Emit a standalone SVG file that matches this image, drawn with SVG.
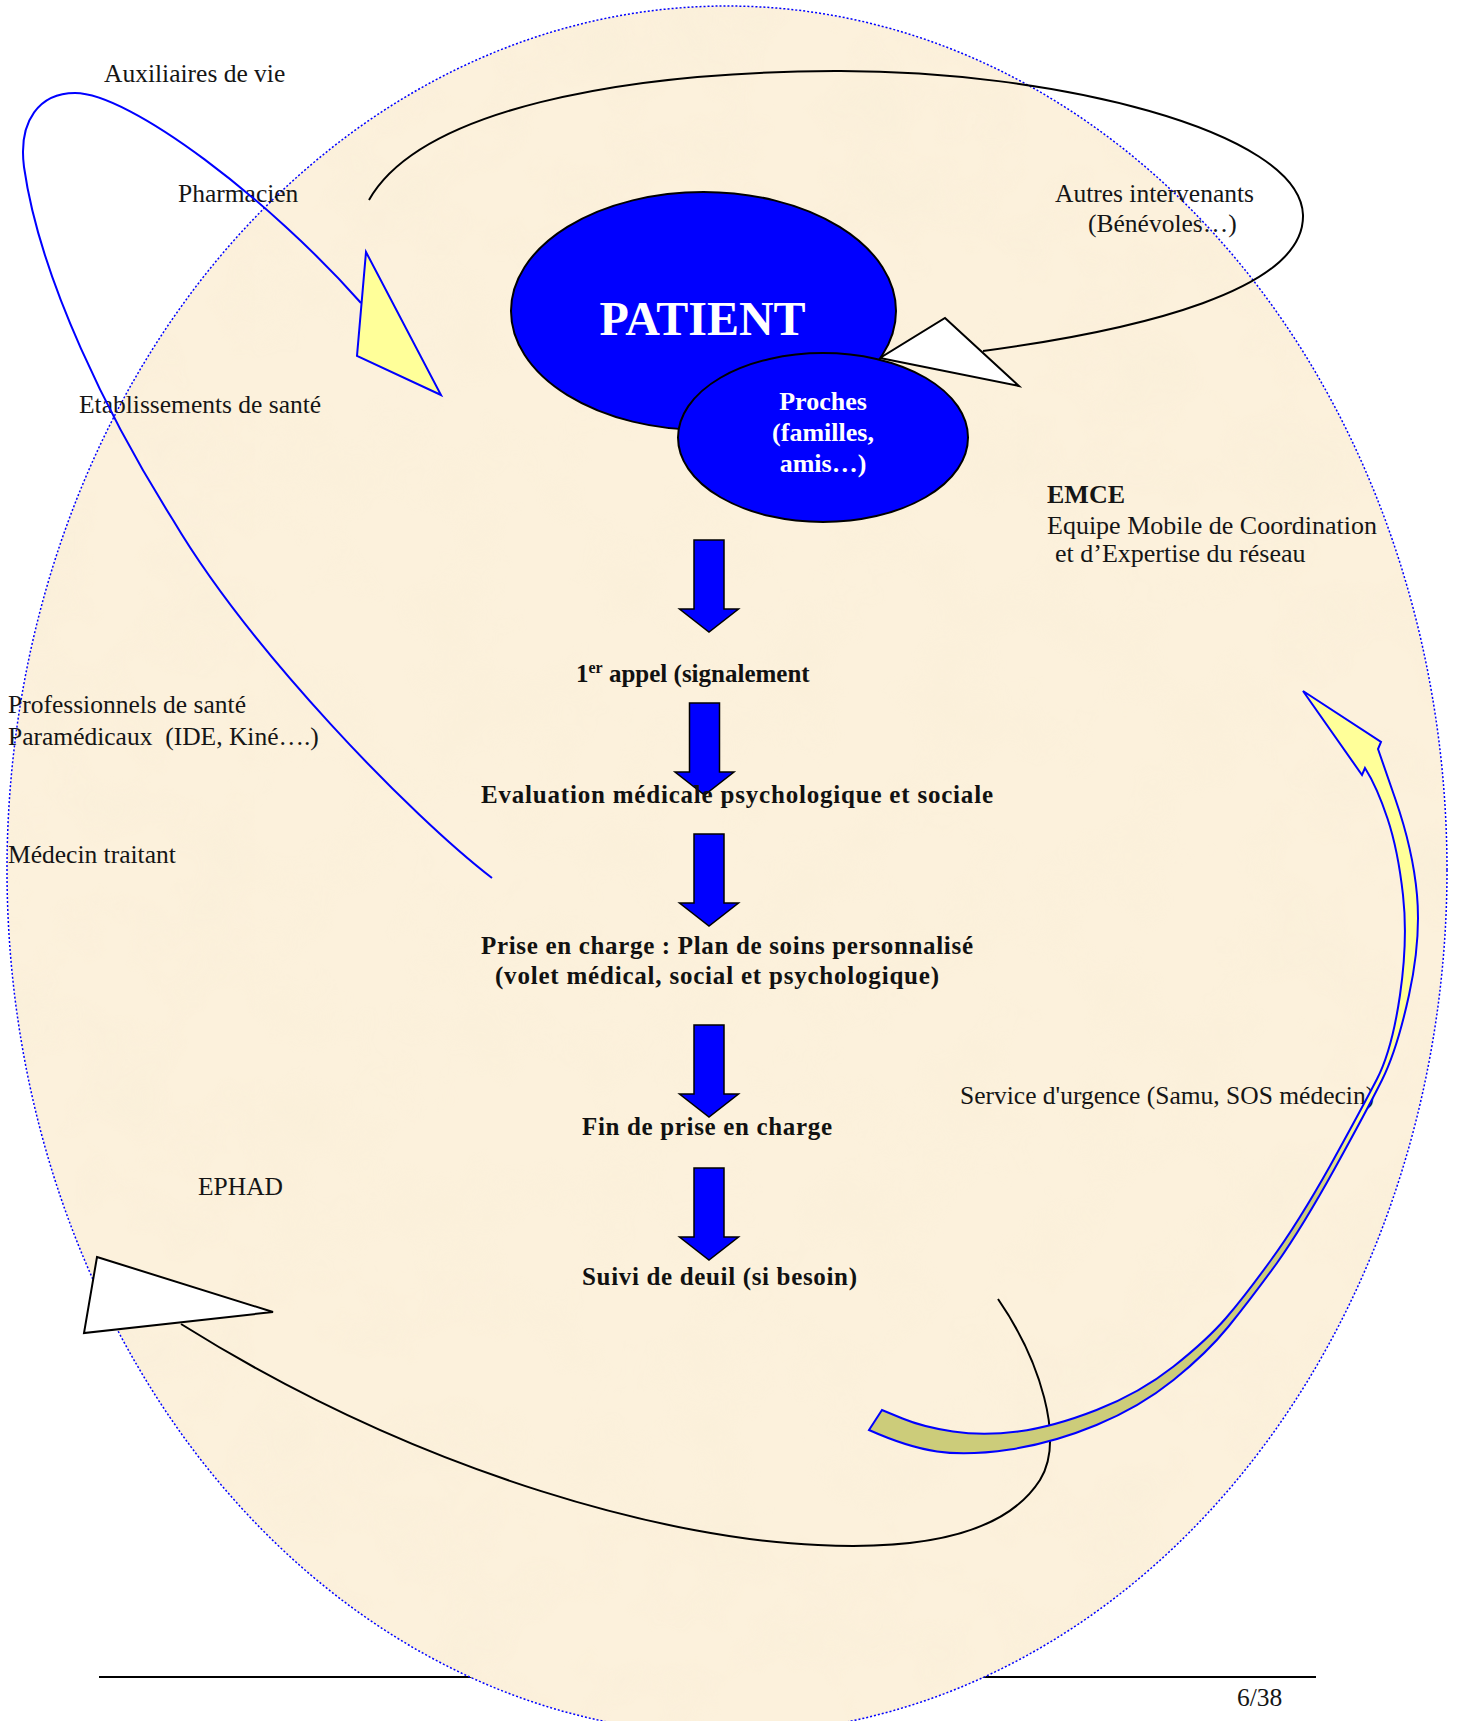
<svg xmlns="http://www.w3.org/2000/svg" width="1457" height="1721" viewBox="0 0 1457 1721">
<style>
.lbl{font-family:"Liberation Serif","Times New Roman",serif;font-size:25.5px;fill:#151515}
.emce{font-family:"Liberation Serif","Times New Roman",serif;font-size:26px;fill:#151515}
.step{font-family:"Liberation Serif","Times New Roman",serif;font-size:25px;font-weight:bold;fill:#111}
.wt{font-family:"Liberation Serif","Times New Roman",serif;font-weight:bold;fill:#fff;text-anchor:middle}
.blk{fill:none;stroke:#000;stroke-width:2}
.blu{fill:none;stroke:#0000ff;stroke-width:2}
.dn{fill:#0000ff;stroke:#000;stroke-width:1.5}
</style>
<defs>
<path id="downArrow" d="M -15,0 H 15 V 69 H 29.5 L 0,92 L -29.5,69 H -15 Z"/>
<linearGradient id="curvGrad" gradientUnits="userSpaceOnUse" x1="0" y1="690" x2="0" y2="1460">
<stop offset="0" stop-color="#ffff99"/>
<stop offset="0.55" stop-color="#ffff99"/>
<stop offset="0.66" stop-color="#cccc7a"/>
<stop offset="1" stop-color="#cccc7a"/>
</linearGradient>
<clipPath id="cadreClip"><ellipse cx="727" cy="870" rx="720" ry="864"/></clipPath>
<filter id="parch" x="0" y="0" width="100%" height="100%" filterUnits="userSpaceOnUse">
<feTurbulence type="fractalNoise" baseFrequency="0.012" numOctaves="3" seed="7" result="n"/>
<feColorMatrix in="n" type="matrix" values="0 0 0 0 0.93  0 0 0 0 0.84  0 0 0 0 0.66  1.6 0 0 0 -0.7"/>
</filter>
</defs>
<rect width="1457" height="1721" fill="#fff"/>
<line x1="99" y1="1677" x2="1316" y2="1677" stroke="#000" stroke-width="2"/>
<g id="cadre">
<ellipse cx="727" cy="870" rx="720" ry="864" fill="#fcf1dc"/>
<rect x="0" y="0" width="1457" height="1721" filter="url(#parch)" clip-path="url(#cadreClip)" opacity="0.35"/>
<ellipse cx="727" cy="870" rx="720" ry="864" fill="none" stroke="#0000ff" stroke-width="1.5" stroke-dasharray="2,2"/>
</g>
<g id="labels">
<text class="lbl" x="104" y="82">Auxiliaires de vie</text>
<text class="lbl" x="178" y="202">Pharmacien</text>
<text class="lbl" x="79" y="413">Etablissements de santé</text>
<text class="lbl" x="1055" y="202">Autres intervenants</text>
<text class="lbl" x="1088" y="232">(Bénévoles…)</text>
<text class="emce" x="1047" y="503" font-weight="bold">EMCE</text>
<text class="emce" x="1047" y="534">Equipe Mobile de Coordination</text>
<text class="emce" x="1055" y="562">et d’Expertise du réseau</text>
<text class="lbl" x="8" y="713">Professionnels de santé</text>
<text class="lbl" x="8" y="745" xml:space="preserve">Paramédicaux  (IDE, Kiné….)</text>
<text class="lbl" x="8" y="863">Médecin traitant</text>
<text class="lbl" x="960" y="1104">Service d'urgence (Samu, SOS médecin)</text>
<text class="lbl" x="198" y="1195">EPHAD</text>
<text class="lbl" x="1237" y="1706">6/38</text>
</g>
<g id="connectors">
<path class="blu" d="M 492,878 C 410,815 250,650 173,520 C 110,420 40,280 24,167 C 18,120 40,93 75,93 C 130,93 270,200 361,303"/>
<polygon points="366,252 357,356 441,395" fill="#ffff99" stroke="#0000ff" stroke-width="2"/>
<path class="blk" d="M 369,200 C 420,110 620,72 835,71 C 1050,70 1300,130 1303,215 C 1305,290 1140,330 983,351"/>
<polygon points="945,318 1019,386 880,358" fill="#fff" stroke="#000" stroke-width="2"/>
<path class="blk" d="M 998,1299 C 1040,1360 1065,1440 1040,1480 C 1005,1535 920,1550 818,1545 C 680,1540 430,1480 181,1324"/>
<polygon points="97,1257 273,1312 84,1333" fill="#fff" stroke="#000" stroke-width="2"/>
<path d="M 1378,749 L 1395.5,799.5 Q 1413,850 1417,895 Q 1421,940 1409,995 Q 1397,1050 1382,1080 Q 1367,1110 1335,1168 Q 1303,1226 1277,1263 Q 1250,1300 1228.5,1326.5 Q 1207,1353 1173.5,1380 Q 1140,1407 1096.5,1425 Q 1053,1443 1010,1449.5 Q 967,1456 937,1451.5 Q 907,1447 869,1430 L 882,1410 L 902.5,1418.5 Q 923,1427 953,1431.5 Q 983,1436 1018,1431.5 Q 1053,1427 1096.5,1410 Q 1140,1393 1173.5,1366.5 Q 1207,1340 1226,1318 Q 1245,1296 1271,1260 Q 1298,1223 1330,1166 Q 1362,1108 1377,1079 Q 1392,1050 1400,995 Q 1408,940 1403,895 Q 1398,850 1387.5,818.5 Q 1377,787 1365,768 L 1362,775 L 1303,691 L 1381,742 Z" fill="url(#curvGrad)" stroke="#0000ff" stroke-width="2" stroke-linejoin="miter"/>
</g>
<g id="patient">
<ellipse cx="703.5" cy="311" rx="192.5" ry="119" fill="#0000ff" stroke="#000" stroke-width="2"/>
<text class="wt" x="702.5" y="335" font-size="48">PATIENT</text>
</g>
<g id="proches">
<ellipse cx="823" cy="437.5" rx="145" ry="84.5" fill="#0000ff" stroke="#000" stroke-width="2"/>
<text class="wt" x="823" y="410" font-size="26">Proches</text>
<text class="wt" x="823" y="441" font-size="26">(familles,</text>
<text class="wt" x="823" y="472" font-size="26">amis…)</text>
</g>
<g id="flow-arrows">
<use href="#downArrow" class="dn" transform="translate(709,540)"/>
<use href="#downArrow" class="dn" transform="translate(704.5,703)"/>
<use href="#downArrow" class="dn" transform="translate(709,834)"/>
<use href="#downArrow" class="dn" transform="translate(709,1025)"/>
<use href="#downArrow" class="dn" transform="translate(709,1168)"/>
</g>
<g id="step1"><text class="step" x="576" y="682" font-size="26">1<tspan font-size="16" dy="-9">er</tspan><tspan dy="9"> appel (signalement</tspan></text></g>
<g id="step2"><text class="step" x="481" y="803" textLength="512" lengthAdjust="spacing">Evaluation médicale psychologique et sociale</text></g>
<g id="step3">
<text class="step" x="481" y="954" textLength="492" lengthAdjust="spacing">Prise en charge : Plan de soins personnalisé</text>
<text class="step" x="495" y="984" textLength="444" lengthAdjust="spacing">(volet médical, social et psychologique)</text>
</g>
<g id="step4"><text class="step" x="582" y="1135" textLength="250" lengthAdjust="spacing">Fin de prise en charge</text></g>
<g id="step5"><text class="step" x="582" y="1285" textLength="275" lengthAdjust="spacing">Suivi de deuil (si besoin)</text></g>
</svg>
